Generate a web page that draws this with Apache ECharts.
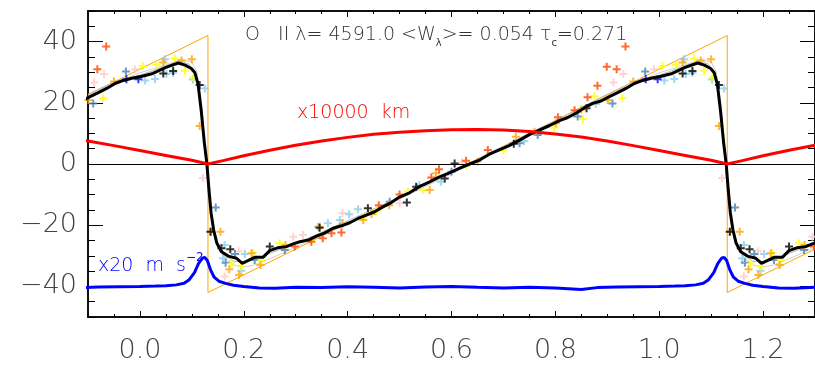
<!DOCTYPE html>
<html>
<head>
<meta charset="utf-8">
<script src="https://cdn.jsdelivr.net/npm/echarts@6/dist/echarts.min.js"></script>
<style>
  html, body { margin: 0; padding: 0; background: #fff; }
  #chart { width: 815px; height: 369px; }
</style>
</head>
<body>
<div id="chart"></div>
<script>
// Phase range shown (phase-folded, repeated beyond one period)
const phaseMin = -0.1;
const phaseMax = 1.3;
const xTickLabels = [0.0, 0.2, 0.4, 0.6, 0.8, 1.0, 1.2];
const yTickLabels = [-40, -20, 0, 20, 40];

// Sawtooth velocity model (vertices)
const sawPhase = [-0.1, 0.131, 0.131, 1.131, 1.131, 1.3];
const sawVel   = [22.6, 42.0, -42.0, 42.0, -42.0, -27.8];

// Mean velocity curve over one period
const meanPhase = [0.000,0.025,0.050,0.074,0.087,0.099,0.106,0.112,0.118,0.124,0.129,0.133,0.137,0.142,0.148,0.157,0.170,0.186,0.197,0.208,0.221,0.237,0.250,0.265,0.282,0.295,0.308,0.325,0.340,0.355,0.372,0.388,0.404,0.420,0.436,0.452,0.468,0.484,0.500,0.519,0.538,0.557,0.577,0.596,0.615,0.635,0.654,0.673,0.692,0.711,0.731,0.750,0.769,0.788,0.808,0.824,0.840,0.856,0.872,0.888,0.904,0.920,0.936,0.952,0.968,0.984];
const meanVel   = [28.5,29.6,31.6,33.0,32.3,31.2,29.8,26.0,17.5,7.0,0.0,-8.5,-16.0,-21.6,-25.8,-28.7,-30.1,-30.8,-32.5,-31.6,-30.5,-30.5,-28.3,-27.4,-27.0,-26.1,-25.4,-24.8,-23.6,-22.6,-21.0,-20.2,-19.2,-17.8,-16.7,-15.6,-14.0,-12.6,-10.8,-9.4,-7.4,-5.9,-4.2,-2.9,-1.4,0.0,1.3,3.2,4.6,6.0,7.8,9.6,11.1,12.5,14.2,15.2,16.6,18.4,19.8,20.6,22.0,23.3,24.7,26.3,27.3,28.0];

// Two smoothed comparison curves (thin grey)
const greyAPhase = [0.0,0.05,0.08,0.10,0.11,0.118,0.125,0.132,0.14,0.15,0.165,0.18,0.20,0.22,0.25,0.30,0.40,0.50,0.60,0.70,0.80,0.90,0.95];
const greyAVel   = [29.8,32.4,34.2,33.3,30.0,20.0,8.0,-8.0,-20.0,-26.5,-31.0,-33.0,-33.6,-33.0,-31.0,-27.2,-19.4,-11.5,-3.2,5.2,13.6,22.2,26.3];
const greyBPhase = [0.0,0.05,0.075,0.095,0.108,0.116,0.124,0.131,0.138,0.146,0.16,0.18,0.20,0.23,0.30,0.40,0.50,0.60,0.70,0.80,0.90,0.95];
const greyBVel   = [29.0,32.0,33.8,32.6,29.0,20.0,7.0,-8.0,-18.0,-25.0,-29.5,-31.8,-32.0,-30.5,-26.0,-18.6,-10.8,-2.5,5.8,14.2,22.8,26.8];

// Radius variation (x10000 km) over one period
const radiusPhase = [0.0,0.05,0.10,0.131,0.16,0.20,0.25,0.30,0.35,0.40,0.45,0.50,0.55,0.60,0.65,0.70,0.75,0.80,0.85,0.90,0.95];
const radiusVal   = [4.4,2.8,1.2,0.0,1.1,2.7,4.5,6.1,7.5,8.7,9.7,10.4,10.9,11.2,11.3,11.1,10.6,9.8,8.8,7.5,6.0];

// Acceleration (x20 m s^-2), offset to -40
const accelPhase = [0.00,0.03,0.05,0.07,0.085,0.095,0.105,0.113,0.120,0.125,0.130,0.136,0.143,0.152,0.165,0.18,0.20,0.23,0.26,0.30,0.35,0.40,0.45,0.50,0.55,0.60,0.65,0.70,0.75,0.80,0.85,0.88,0.92,0.96];
const accelVal   = [-40.0,-39.9,-39.8,-39.5,-39.0,-37.8,-35.5,-32.5,-30.8,-30.5,-31.6,-34.6,-37.0,-38.3,-39.0,-39.6,-40.0,-40.5,-40.6,-40.3,-40.4,-40.1,-40.3,-40.5,-40.2,-40.0,-40.3,-40.5,-40.3,-40.5,-41.0,-40.4,-40.2,-40.1];

// Individual line measurements, one period, grouped by plotting colour
const ptsBlack = [[0.045,29.6],[0.064,30.4],[0.115,25.8],[0.136,-22.1],[0.157,-27.5],[0.174,-27.9],[0.25,-27.0],[0.346,-20.8],[0.439,-14.5],[0.514,-12.6],[0.532,-7.4],[0.587,-4.7],[0.606,0.2],[0.72,6.6],[0.86,18.2]];
const ptsOrange = [[0.045,33.2],[0.080,33.8],[0.100,34.2],[0.115,12.4],[0.136,-22.1],[0.155,-22.1],[0.172,-34.4],[0.191,-36.3],[0.215,-29.2],[0.232,-33.0],[0.28,-26.5],[0.346,-20.5],[0.39,-19.5],[0.43,-18.3],[0.446,-16.3],[0.48,-13.5],[0.558,-8.5],[0.57,-3.0],[0.65,0.8],[0.724,8.9],[0.76,10.5],[0.801,13.3],[0.85,17.8],[0.901,20.9],[0.95,27.0]];
const ptsOrangeRed = [[0.298,-27.0],[0.33,-25.4],[0.352,-24.3],[0.369,-22.6],[0.388,-22.4],[0.46,-13.5],[0.50,-10.0],[0.561,-4.4],[0.576,-1.7],[0.628,1.1],[0.67,4.6],[0.805,15.3],[0.837,17.6],[0.862,21.8],[0.881,25.6],[0.899,31.8],[0.918,31.0],[0.935,38.4]];
const ptsYellow = [[0.006,32.0],[0.032,32.4],[0.067,34.5],[0.0865,30.5],[0.103,28.3],[0.176,-32.5],[0.195,-33.5],[0.218,-29.0],[0.234,-31.4],[0.269,-25.9],[0.33,-25.2],[0.43,-17.5],[0.455,-15.5],[0.516,-9.0],[0.545,-8.5],[0.628,-0.5],[0.70,4.5],[0.798,11.9],[0.853,14.7],[0.875,22.2],[0.929,21.5]];
const ptsSkyBlue = [[0.010,27.3],[0.029,27.8],[0.048,34.2],[0.051,29.4],[0.064,29.8],[0.102,27.6],[0.125,24.7],[0.160,-30.8],[0.163,-26.5],[0.195,-34.9],[0.202,-29.4],[0.343,-20.5],[0.362,-19.4],[0.385,-18.3],[0.403,-16.4],[0.42,-14.8],[0.538,-6.9],[0.58,-5.8],[0.74,7.5],[0.77,10.5],[0.878,19.6]];
const ptsSteelBlue = [[0.146,-14.2],[0.165,-32.3],[0.183,-29.4],[0.221,-31.4],[0.279,-28.1],[0.481,-12.3],[0.60,-2.5],[0.731,6.8],[0.766,9.5],[0.843,15.5],[0.910,19.8],[0.973,30.2]];
const ptsBlue = [[0.974,27.7],[0.997,27.7]];
const ptsPink = [[0.121,-4.6],[0.163,-36.8],[0.19,-28.5],[0.295,-23.8],[0.314,-23.2],[0.39,-16.0],[0.50,-12.8],[0.62,0.5],[0.912,26.6],[0.931,29.4],[0.99,31.0]];

// Repeat one period across the shown phase range
function foldLine(ph, val, pad) {
  const out = [];
  [-1, 0, 1].forEach(function (s) {
    for (let i = 0; i < ph.length; i++) {
      const x = ph[i] + s;
      if (x >= phaseMin - pad && x <= phaseMax + pad) out.push([x, val[i]]);
    }
  });
  return out;
}
function foldPoints(pts) {
  const out = [];
  [-1, 0, 1].forEach(function (s) {
    pts.forEach(function (p) {
      const x = p[0] + s;
      if (x >= phaseMin && x <= phaseMax) out.push([x, p[1]]);
    });
  });
  return out;
}

const plusSymbol = 'path://M3,0h2v3h3v2h-3v3h-2v-3h-3v-2h3z';
const font = 'DejaVu Sans';

function scatterSeries(pts, color) {
  return {
    type: 'scatter', data: foldPoints(pts), symbol: plusSymbol, symbolSize: 8,
    itemStyle: { color: color }, silent: true, z: 3
  };
}
function lineSeries(data, color, width, z) {
  return {
    type: 'line', data: data, showSymbol: false, symbol: 'none',
    lineStyle: { color: color, width: width }, silent: true, z: z, clip: true
  };
}

const sawData = sawPhase.map(function (p, i) { return [p, sawVel[i]]; });

const axisLineStyle = { show: true, onZero: false, lineStyle: { color: '#000', width: 1.5 } };

function xAxisDef(pos, major, showLabel) {
  const a = {
    type: 'value', min: phaseMin, max: phaseMax, position: pos,
    splitLine: { show: false },
    axisLine: axisLineStyle,
    axisTick: { show: true, inside: true, length: major ? 6 : 3, lineStyle: { color: '#000', width: 1 } },
    axisLabel: { show: false }
  };
  if (major) {
    a.axisTick.customValues = xTickLabels;
    if (showLabel) {
      a.axisLabel = {
        show: true, customValues: xTickLabels, fontFamily: font, fontWeight: 200, fontSize: 27, color: '#444', margin: 20,
        formatter: function (v) { return v.toFixed(1); }
      };
    }
  } else {
    a.interval = 0.05;
  }
  return a;
}
function yAxisDef(pos, major, showLabel) {
  const a = {
    type: 'value', min: -50, max: 50, position: pos,
    splitLine: { show: false },
    axisLine: axisLineStyle,
    axisTick: { show: true, inside: true, length: major ? 15 : 7, lineStyle: { color: '#000', width: 1 } },
    axisLabel: { show: false }
  };
  if (major) {
    a.axisTick.customValues = yTickLabels;
    if (showLabel) {
      a.axisLabel = {
        show: true, customValues: yTickLabels, fontFamily: font, fontWeight: 200, fontSize: 27, color: '#444', margin: 11,
        formatter: function (v) { return v < 0 ? '\u2212' + Math.abs(v) : String(v); }
      };
    }
  } else {
    a.interval = 5;
  }
  return a;
}

const chart = echarts.init(document.getElementById('chart'), null, { renderer: 'canvas' });
chart.setOption({
  animation: false,
  backgroundColor: '#fff',
  grid: { left: 88, top: 11, width: 728, height: 306, containLabel: false },
  xAxis: [xAxisDef('bottom', false), xAxisDef('bottom', true, true), xAxisDef('top', false), xAxisDef('top', true, false)],
  yAxis: [yAxisDef('left', false), yAxisDef('left', true, true), yAxisDef('right', false), yAxisDef('right', true, false)],
  graphic: [
    {
      type: 'text', x: 245, y: 35, silent: true,
      style: {
        text: 'O   II \u03bb= 4591.0 <W{sub|\u03bb}>= 0.054 \u03c4{sub|c}=0.271',
        fontFamily: font, fontWeight: 200, fontSize: 19, fill: '#333', lineHeight: 26,
        textAlign: 'left', align: 'left', textVerticalAlign: 'middle', verticalAlign: 'middle',
        rich: { sub: { fontFamily: font, fontSize: 10, fill: '#333', verticalAlign: 'bottom', lineHeight: 14 } }
      }
    },
    {
      type: 'text', x: 297, y: 113, silent: true,
      style: {
        text: 'x10000  km', fontFamily: font, fontWeight: 200, fontSize: 19, fill: '#ff0000',
        textAlign: 'left', align: 'left', textVerticalAlign: 'middle', verticalAlign: 'middle'
      }
    },
    {
      type: 'text', x: 98, y: 266, silent: true,
      style: {
        text: 'x20  m  s{sup|\u22122}', fontFamily: font, fontWeight: 200, fontSize: 19, fill: '#0000ff', lineHeight: 28,
        textAlign: 'left', align: 'left', textVerticalAlign: 'middle', verticalAlign: 'middle',
        rich: { sup: { fontFamily: font, fontSize: 12, fill: '#0000ff', verticalAlign: 'top', lineHeight: 14 } }
      }
    }
  ],
  series: [
    {
      type: 'line', data: [], silent: true,
      markLine: {
        silent: true, symbol: 'none', label: { show: false },
        lineStyle: { color: '#000', width: 1, type: 'solid' },
        data: [{ yAxis: 0 }]
      }
    },
    lineSeries(sawData, '#ffa500', 1, 2),
    lineSeries(foldLine(greyAPhase, greyAVel, 0.06), '#d0d0d0', 1, 2),
    lineSeries(foldLine(greyBPhase, greyBVel, 0.06), '#b8b8b8', 1, 2),
    scatterSeries(ptsPink, '#ffc8c8'),
    scatterSeries(ptsSkyBlue, '#87ceeb'),
    scatterSeries(ptsSteelBlue, '#4682b4'),
    scatterSeries(ptsYellow, '#ffff00'),
    scatterSeries(ptsOrange, '#ffa500'),
    scatterSeries(ptsOrangeRed, '#ff4500'),
    scatterSeries(ptsBlue, '#0000ff'),
    scatterSeries(ptsBlack, '#000000'),
    lineSeries(foldLine(meanPhase, meanVel, 0.06), '#000000', 3, 5),
    lineSeries(foldLine(radiusPhase, radiusVal, 0.06), '#ff0000', 3, 6),
    lineSeries(foldLine(accelPhase, accelVal, 0.06), '#0000ff', 3, 6)
  ]
});
</script>
</body>
</html>
